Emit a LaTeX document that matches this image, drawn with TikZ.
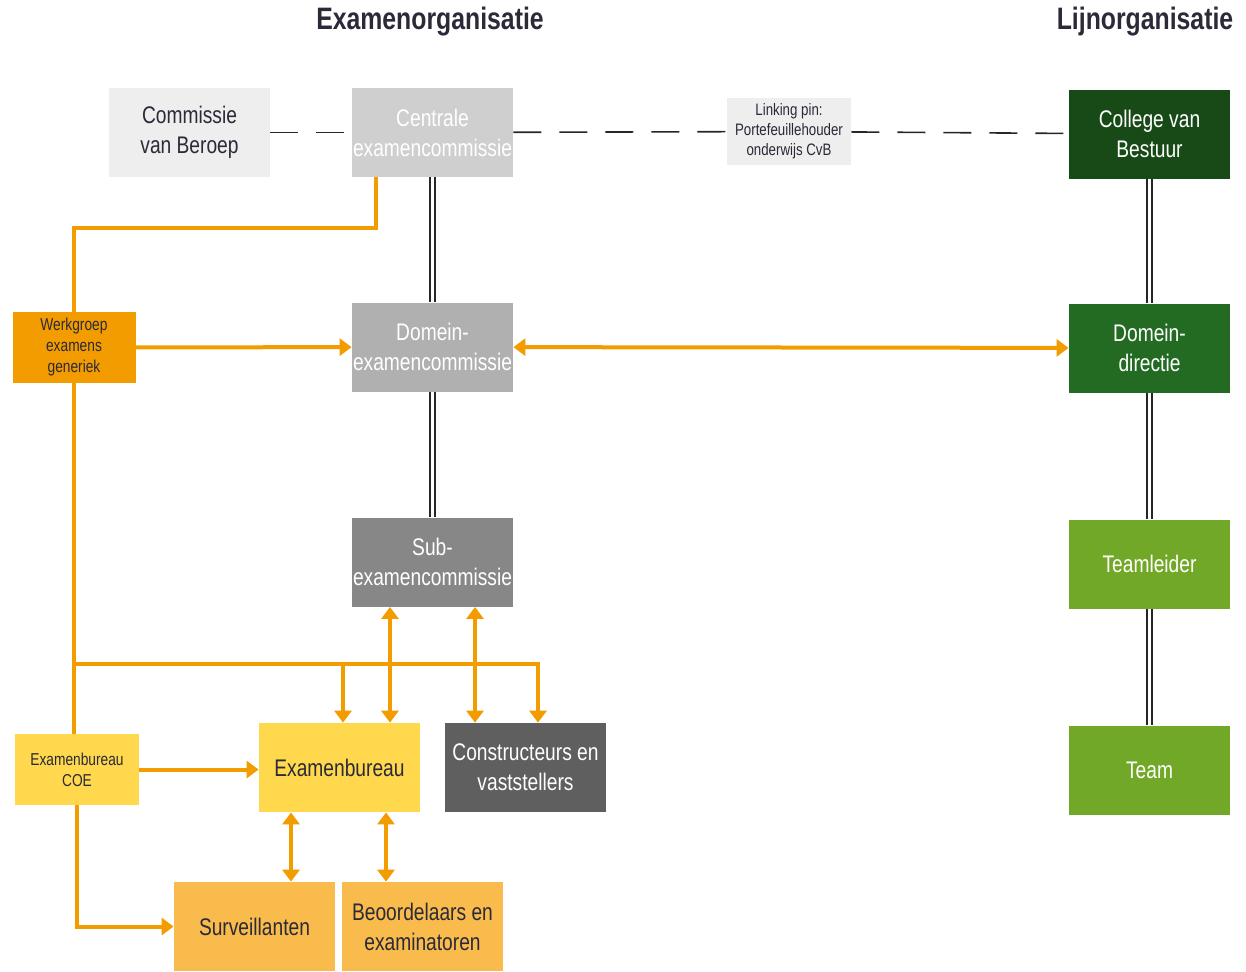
\documentclass[tikz,border=0pt]{standalone}
\usepackage{fontspec}
\setmainfont{Liberation Sans}[FakeStretch=0.8]
\usetikzlibrary{arrows.meta,calc}

\definecolor{oranje}{HTML}{F39C00}
\definecolor{geel}{HTML}{FFD84D}
\definecolor{lichtoranje}{HTML}{F9BB4B}
\definecolor{lichtgrijs}{HTML}{EEEEEE}
\definecolor{grijs1}{HTML}{CFCFCF}
\definecolor{grijs2}{HTML}{B0B0B0}
\definecolor{grijs3}{HTML}{878787}
\definecolor{grijs4}{HTML}{5F5F5F}
\definecolor{groen1}{HTML}{174A16}
\definecolor{groen2}{HTML}{236B22}
\definecolor{groen3}{HTML}{72A828}
\definecolor{tekst}{HTML}{2A2A38}

\begin{document}
\begin{tikzpicture}[x=0.5pt,y=-0.5pt]
      \tikzset { box/.style = { shape=rectangle,inner sep=0pt,align=center,minimum width=80.5pt,minimum height=44.5pt,font=\fontsize{12}{15}\selectfont } }
      \tikzset { smallbox/.style = { box,minimum width=61.5pt,minimum height=35.5pt,font=\fontsize{8.6}{10.5}\selectfont } }
      \tikzset { title/.style = { font=\fontsize{15.5}{18}\selectfont\bfseries,text=tekst } }
      \tikzset { oline/.style = { draw=oranje,line width=2pt } }
      \tikzset { oarrow/.style = { oline,-{Triangle[length=6pt,width=8.5pt]} } }
      \tikzset { darrow/.style = { oline,{Triangle[length=6pt,width=8.5pt]}-{Triangle[length=6pt,width=8.5pt]} } }
      \tikzset { dubbel/.style = { draw=black!85,line width=1.1pt,double=white,double distance=1.5pt } }
      \tikzset { pinline/.style = { draw=black!85,line width=0.8pt,dash pattern=on 14pt off 9pt } }

      \useasboundingbox (0,0) rectangle (1246,971);

      \node[title] (t1) at (430,22) {Examenorganisatie};
      \node[title] (t2) at (1145,22) {Lijnorganisatie};

      \node[box,fill=lichtgrijs,text=tekst] (beroep) at (189.5,132.5) {Commissie\\van Beroep};
      \node[box,fill=grijs1,text=white] (centraal) at (432.5,132.5) {Centrale\\examencommissie};
      \node[smallbox,minimum width=62pt,minimum height=33.5pt,fill=lichtgrijs,text=tekst,font=\fontsize{8.3}{10}\selectfont] (linkpin) at (789,131.5) {Linking pin:\\Portefeuillehouder\\onderwijs CvB};
      \node[box,fill=groen1,text=white] (college) at (1149.5,134) {College van\\Bestuur};

      \node[smallbox,fill=oranje,text=tekst] (werkgroep) at (74,347.5) {Werkgroep\\examens\\generiek};
      \node[box,fill=grijs2,text=white] (domein) at (432.5,347) {Domein-\\examencommissie};
      \node[box,fill=groen2,text=white] (directie) at (1149.5,348) {Domein-\\directie};

      \node[box,fill=grijs3,text=white] (sub) at (432.5,562) {Sub-\\examencommissie};
      \node[box,fill=groen3,text=white] (teamleider) at (1149.5,564) {Teamleider};

      \node[smallbox,minimum width=62pt,fill=geel,text=tekst] (coe) at (77,769.5) {Examenbureau\\COE};
      \node[box,fill=geel,text=tekst] (bureau) at (339.5,767.5) {Examenbureau};
      \node[box,fill=grijs4,text=white] (constr) at (525.5,767.5) {Constructeurs en\\vaststellers};
      \node[box,fill=groen3,text=white] (team) at (1149.5,770) {Team};

      \node[box,fill=lichtoranje,text=tekst] (surv) at (254.5,926.5) {Surveillanten};
      \node[box,fill=lichtoranje,text=tekst] (beoord) at (422.5,926.5) {Beoordelaars en\\examinatoren};

      % linking pin
      \draw[pinline] (beroep) -- (centraal);
      \draw[pinline] (centraal) -- (linkpin);
      \draw[pinline] (linkpin) -- (college);

      % hierarchy
      \draw[dubbel] (centraal) -- (domein);
      \draw[dubbel] (domein) -- (sub);
      \draw[dubbel] (college) -- (directie);
      \draw[dubbel] (directie) -- (teamleider);
      \draw[dubbel] (teamleider) -- (team);

      % orange connections
      \coordinate (k1) at (376,228);
      \coordinate (k2) at (75,664);
      \coordinate (k3) at (538,664);
      \coordinate (k4) at (343,664);
      \coordinate (s1) at (390,0);
      \coordinate (s2) at (475,0);
      \coordinate (s3) at (291,0);
      \coordinate (s4) at (386,0);

      \draw[oline] (centraal.south -| k1) -- (k1) -| (werkgroep.north);
      \draw[oarrow] (werkgroep) -- (domein);
      \draw[darrow] (domein) -- (directie);
      \draw[oline] (werkgroep.south) -- (coe.north -| werkgroep.south);
      \draw[oarrow] (k2) -| (k3 |- constr.north);
      \draw[oarrow] (k4) -- (k4 |- bureau.north);
      \draw[darrow] (sub.south -| s1) -- (bureau.north -| s1);
      \draw[darrow] (sub.south -| s2) -- (constr.north -| s2);
      \draw[oarrow] (coe.east) -- (coe.east -| bureau.west);
      \draw[oarrow] (coe.south) |- (surv);
      \draw[darrow] (bureau.south -| s3) -- (surv.north -| s3);
      \draw[darrow] (bureau.south -| s4) -- (beoord.north -| s4);

\end{tikzpicture}
\end{document}
